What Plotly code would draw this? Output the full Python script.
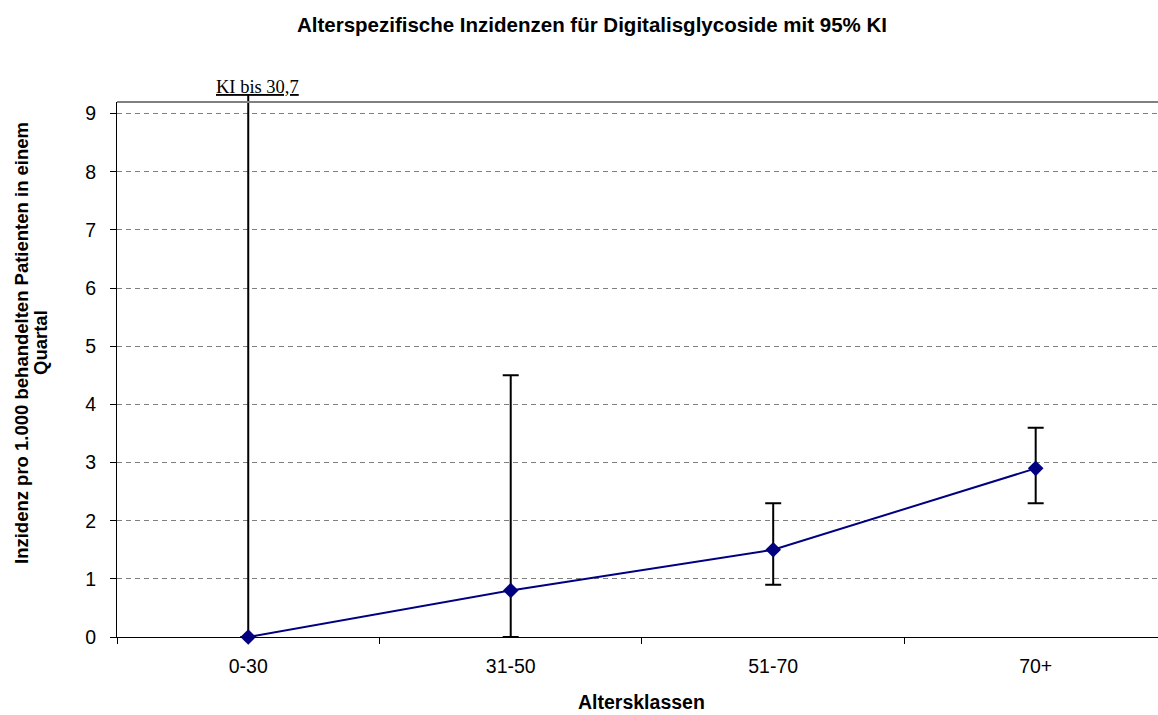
import plotly.graph_objects as go

# Age groups and incidence per 1,000 treated patients per quarter
age_groups = ["0-30", "31-50", "51-70", "70+"]
incidence = [0.0, 0.8, 1.5, 2.9]
ci_upper = [30.7, 4.5, 2.3, 3.6]
ci_lower = [0.0, 0.0, 0.9, 2.3]
y_ticks = [0, 1, 2, 3, 4, 5, 6, 7, 8, 9]

err_plus = [u - v for u, v in zip(ci_upper, incidence)]
err_minus = [v - l for v, l in zip(incidence, ci_lower)]

W, H = 1158, 715
ML, MT, MB = 117, 102, 78
PLOT_W, PLOT_H = W - ML, H - MT - MB

fig = go.Figure()
fig.add_trace(go.Scatter(
    x=age_groups,
    y=incidence,
    mode="lines+markers",
    line=dict(color="#000080", width=2),
    marker=dict(symbol="diamond", size=12, color="#000080"),
    error_y=dict(type="data", array=err_plus, arrayminus=err_minus,
                 color="black", thickness=2, width=8, visible=True),
    showlegend=False,
    cliponaxis=False,
))

# Upper CI of the first group runs off the chart: continue the bar above the frame
fig.add_shape(type="line", xref="x", yref="paper", x0=age_groups[0], x1=age_groups[0],
              ysizemode="pixel", yanchor=1, y0=0, y1=8,
              line=dict(color="black", width=2))
fig.add_annotation(x=age_groups[0], y=1, xref="x", yref="paper",
                   yanchor="bottom", xanchor="center", xshift=9, yshift=3,
                   text="<u>KI bis %s</u>" % str(ci_upper[0]).replace(".", ","),
                   showarrow=False,
                   font=dict(family="Liberation Serif", size=18.5, color="black"))

# Grey frame line on top of the plot area
fig.add_shape(type="line", xref="paper", yref="paper", x0=0, x1=1, y0=1, y1=1,
              line=dict(color="#808080", width=2))

# Axis titles
fig.add_annotation(x=1.5, y=0, xref="x", yref="paper",
                   yanchor="top", yshift=-52, showarrow=False,
                   text="<b>Altersklassen</b>",
                   font=dict(family="Arial", size=19.5, color="black"))

y_title_lines = ["Inzidenz pro 1.000 behandelten Patienten in einem", "Quartal"]
for line_text, px in zip(y_title_lines, [21, 40]):
    fig.add_annotation(x=(px - ML) / PLOT_W, y=(637 - 343) / PLOT_H,
                       xref="paper", yref="paper", showarrow=False,
                       textangle=-90, xanchor="center", yanchor="middle",
                       text="<b>%s</b>" % line_text,
                       font=dict(family="Arial", size=18.5, color="black"))

fig.update_layout(
    width=W, height=H,
    margin=dict(l=ML, r=0, t=MT, b=MB, pad=0),
    paper_bgcolor="white", plot_bgcolor="white",
    title=dict(text="<b>Alterspezifische Inzidenzen für Digitalisglycoside mit 95% KI</b>",
               x=592 / W, xref="container", xanchor="center",
               y=1 - 25 / H, yref="container", yanchor="middle",
               font=dict(family="Arial", size=20.5, color="black")),
    font=dict(family="Arial", size=19.5, color="black"),
    xaxis=dict(
        type="category", range=[-0.5, 3.466],
        showline=True, linecolor="black", linewidth=1,
        ticks="outside", ticklen=6, tickcolor="black", tickson="boundaries",
        showgrid=False, zeroline=False,
        tickfont=dict(family="Arial", size=19.5, color="black"),
        ticklabelstandoff=12,
    ),
    yaxis=dict(
        range=[0, 9.2], tickvals=y_ticks,
        showline=True, linecolor="black", linewidth=1,
        ticks="outside", ticklen=6, tickcolor="black",
        showgrid=True, gridcolor="#808080", gridwidth=1, griddash="5px,4px",
        zeroline=False,
        tickfont=dict(family="Arial", size=19.5, color="black"),
        ticklabelstandoff=10,
    ),
)

fig.write_html("out.html")
